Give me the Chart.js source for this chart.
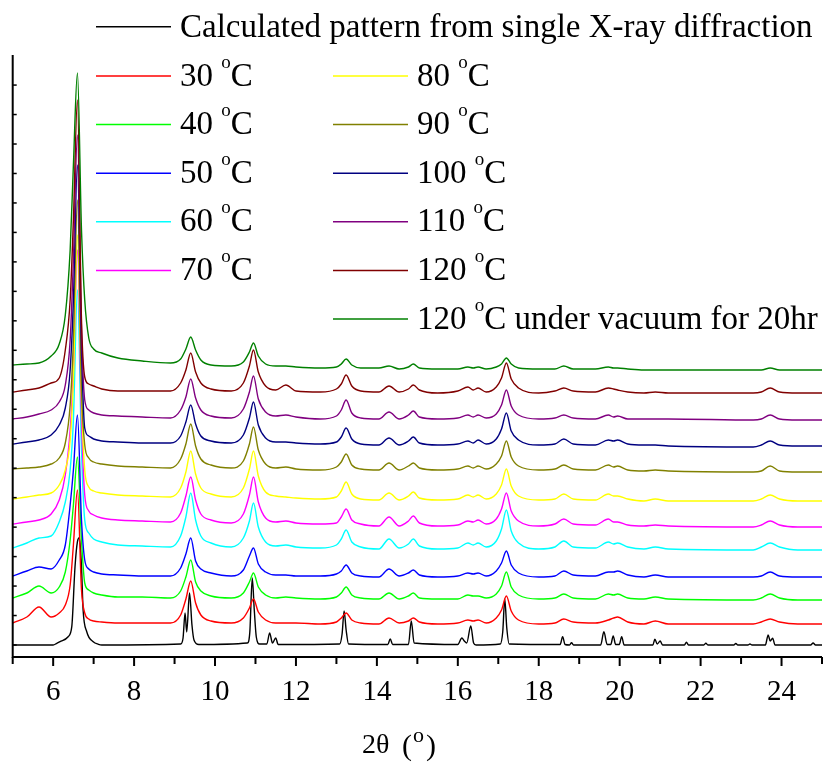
<!DOCTYPE html>
<html><head><meta charset="utf-8">
<script src="https://cdn.jsdelivr.net/npm/chart.js@4.4.1/dist/chart.umd.min.js"></script>
<style>html,body{margin:0;padding:0;background:#fff;}#wrap{width:825px;height:765px;position:relative;}</style>
</head><body><div id="wrap"><canvas id="c"></canvas></div>
<script>
// 2-theta grid shared by the measured patterns
const twoTheta = [5.00,5.35,5.65,5.95,6.15,6.30,6.42,6.50,6.60,6.70,6.78,6.88,7.00,7.20,7.60,8.20,8.90,
 9.15,9.28,9.40,9.52,9.65,9.90,
 10.40,10.70,10.85,10.95,11.07,11.25,11.50,11.75,12.00,12.60,
 13.00,13.12,13.24,13.38,13.60,
 14.05,14.30,14.55,14.78,14.90,15.05,15.50,
 16.00,16.25,16.38,16.50,16.70,
 16.95,17.08,17.20,17.32,17.50,
 18.00,18.40,18.62,18.85,19.40,19.72,19.85,19.95,20.20,20.60,20.88,21.20,23.30,23.50,23.72,23.95,24.40,25.00];

// calculated pattern (own grid)
const calcTheta = [5.00,6.00,6.09,6.17,6.37,6.46,6.54,6.60,6.65,6.70,6.74,6.83,6.99,7.12,7.20,
 9.15,9.21,9.26,9.30,9.37,9.43,9.48,9.60,
 10.80,10.86,10.92,10.97,11.02,11.10,11.28,11.35,11.42,11.50,11.56,
 13.08,13.14,13.19,13.24,13.30,14.27,14.33,14.39,14.78,14.85,14.92,
 16.00,16.10,16.16,16.22,16.32,16.39,16.45,17.05,17.11,17.16,17.21,17.27,
 18.53,18.59,18.65,18.76,18.81,18.86,19.53,19.61,19.69,19.78,19.84,19.90,19.99,20.05,20.11,
 20.82,20.87,20.93,21.00,21.06,21.60,21.65,21.70,22.08,22.13,22.18,22.82,22.87,22.92,23.17,23.22,23.27,
 23.60,23.67,23.72,23.78,23.84,24.72,24.78,24.84,25.00];
const calcPattern = [12,12,13.7,15.3,20.3,30.3,90.3,115.3,119.3,90.3,47,25.3,15.3,12.7,12,
 13,19,44,25,64,32,17,12.5,
 14,25,79,47,20,13,13,24,14,19,12.5,
 13,23,46,27,13,12.5,18,12.5,12.5,36,14,
 12.5,19,16,14,31,14,12,13,25,58,29,13,
 12.5,20.3,12.5,12,14.3,12,12,25.3,12.5,12.5,21,12.5,12.5,20.3,12,
 12,17.7,13,16,12,12,14.7,12,12,13.7,12,12,13.5,12,12,13,12,
 12,22,16,18.7,12,12,14,12,12];

const t30 = [34,40,50,40,44,52,72,112,167,67,44,38,36,35,34,34,34,
 42,58,76,54,42,36,
 34,39,49,58,45,37,34,34,34,33,
 35,39,44,37,34,
 33,39,34,36,39,35,33,
 34,37,36,37,34,
 39,47,61,46,37,
 33,34,38,35,34,37,39,40,35,33,36,33,33,35,38,35,33,33];
const t40 = [59,64,71,64,70,85,117,152,200,117,74,67,64,62,60,60,59,
 66,80,97,75,66,61,
 59,64,75,84,70,62,59,60,59,58,
 60,64,70,62,59,
 58,64,58,61,64,59,58,
 58,62,61,61,59,
 63,71,85,70,62,
 58,59,63,59,58,63,62,63,59,58,60,58,57,59,63,59,57,57];
const t50 = [81,86,90,88,97,112,152,187,242,137,97,88,85,83,82,81,81,
 89,103,119,96,88,84,
 81,87,101,109,93,85,82,82,81,81,
 83,86,92,84,81,
 80,88,81,84,87,82,80,
 81,84,83,84,81,
 86,94,106,92,84,
 80,81,86,82,81,85,85,86,82,80,82,80,80,81,85,81,80,80];
const t60 = [109,114,119,121,135,155,187,237,367,207,137,124,118,115,112,111,110,
 121,140,164,137,121,114,
 110,119,136,154,130,115,111,112,110,109,
 112,118,127,115,110,
 108,118,109,113,118,111,108,
 109,114,112,114,110,
 116,128,147,126,114,
 108,110,116,110,109,115,113,114,110,108,110,108,107,110,114,110,107,107];
const t70 = [133,135,137,143,157,182,227,287,407,237,162,146,142,139,137,136,135,
 144,161,180,157,143,137,
 134,143,162,180,155,139,135,136,134,133,
 134,140,148,137,133,
 131,140,131,136,141,134,131,
 132,136,135,137,133,
 138,148,164,146,136,
 131,133,138,133,132,138,135,135,132,131,132,131,130,132,136,132,130,130];
const t80 = [158,160,162,164,172,187,217,277,422,257,187,170,166,164,162,161,160,
 169,185,206,183,169,163,
 160,169,188,206,181,165,161,160,159,158,
 160,166,175,163,158,
 157,164,157,161,165,159,157,
 158,162,160,162,158,
 163,172,188,171,161,
 157,158,163,158,157,163,161,161,158,156,158,156,156,158,162,158,156,156];
const t90 = [188,189,190,193,199,214,252,317,457,267,212,199,195,193,191,190,189,
 198,213,233,211,198,192,
 189,196,213,230,207,193,189,190,188,187,
 190,195,203,192,188,
 187,194,187,191,194,189,187,
 188,191,189,191,188,
 193,201,216,200,191,
 187,188,192,188,187,192,190,191,187,186,187,186,185,186,191,186,185,185];
const t100 = [213,215,217,222,232,249,287,357,492,307,229,221,218,216,215,214,214,
 221,235,252,233,221,216,
 214,222,239,255,232,219,215,215,214,213,
 215,220,229,218,213,
 212,219,212,216,220,214,212,
 213,216,214,217,213,
 218,228,244,226,217,
 212,213,218,213,212,217,216,217,213,212,212,211,210,212,216,212,211,211];
const t110 = [238,240,243,247,255,272,317,397,522,327,257,247,244,242,241,240,239,
 247,260,278,259,247,241,
 239,248,265,281,258,245,241,242,240,238,
 241,247,257,244,239,
 238,245,238,242,246,240,238,
 239,242,240,242,239,
 243,252,267,251,242,
 238,239,242,239,238,242,240,241,238,238,238,238,237,238,242,238,237,237];
const t120 = [265,267,269,274,279,307,357,437,557,337,280,273,271,268,266,266,266,
 274,287,304,285,274,268,
 266,274,291,307,285,271,267,272,266,265,
 268,273,282,271,266,
 265,271,265,268,272,267,264,
 266,270,267,269,265,
 270,279,294,278,269,
 264,266,269,266,265,269,268,267,265,264,265,264,264,265,269,265,264,264];
const t120vac = [292,293,294,301,313,342,407,492,584,427,357,319,308,304,299,296,294,
 298,308,320,307,297,292,
 291,295,305,314,301,293,291,291,290,289,
 290,293,298,292,289,
 289,291,288,290,293,289,288,
 288,290,289,290,288,
 290,293,299,293,289,
 288,288,291,288,288,290,289,289,288,287,287,287,287,287,289,287,287,287];

const seriesNames = ['Calculated pattern from single X-ray diffraction','30 °C','40 °C','50 °C','60 °C','70 °C',
 '80 °C','90 °C','100 °C','110 °C','120 °C','120 °C under vacuum for 20hr'];
const seriesColors = ['#000000','#ff0000','#00ff00','#0000ff','#00ffff','#ff00ff',
 '#ffff00','#808000','#000080','#800080','#800000','#008000'];
const xTickLabels = ['6','8','10','12','14','16','18','20','22','24'];
const axisTitleParts = ['2θ', '(', 'o', ')'];

const FONT = '"Liberation Serif", "Times New Roman", Times, serif';
Chart.defaults.font.family = FONT;
function pts(xs, ys){ return xs.map((x,i)=>({x:x, y:ys[i]})); }
const seriesData = [pts(calcTheta,calcPattern), pts(twoTheta,t30), pts(twoTheta,t40), pts(twoTheta,t50),
 pts(twoTheta,t60), pts(twoTheta,t70), pts(twoTheta,t80), pts(twoTheta,t90), pts(twoTheta,t100),
 pts(twoTheta,t110), pts(twoTheta,t120), pts(twoTheta,t120vac)];

function drawRich(ctx, text, x, base, size, supSize, raise){
  const parts = text.split('°');
  ctx.fillStyle = '#000'; ctx.textBaseline = 'alphabetic'; ctx.textAlign = 'left';
  parts.forEach((p,k)=>{
    if (k>0){ ctx.font = supSize+'px '+FONT; ctx.fillText('o', x, base-raise); x += ctx.measureText('o').width; }
    ctx.font = size+'px '+FONT; ctx.fillText(p, x, base); x += ctx.measureText(p).width;
  });
}

const axesPlugin = {
  id:'axesDraw',
  afterDatasetsDraw(chart){
    const ctx = chart.ctx, a = chart.chartArea, xs = chart.scales.x, ys = chart.scales.y;
    ctx.save();
    ctx.strokeStyle = '#000'; ctx.lineWidth = 2;
    ctx.beginPath(); ctx.moveTo(a.left, a.top); ctx.lineTo(a.left, a.bottom); ctx.lineTo(a.right, a.bottom); ctx.stroke();
    for (let v=5; v<=25; v++){
      const px = xs.getPixelForValue(v), len = (v%2===0) ? 9 : 7;
      ctx.beginPath(); ctx.moveTo(px, a.bottom); ctx.lineTo(px, a.bottom+len); ctx.stroke();
    }
    ctx.lineWidth = 1.5;
    for (let k=0; k<=19; k++){
      const py = ys.getPixelForValue(12 + 29.47*k);
      ctx.beginPath(); ctx.moveTo(a.left, py); ctx.lineTo(a.left+4, py); ctx.stroke();
    }
    ctx.restore();
  },
  afterDraw(chart){
    const ctx = chart.ctx;
    ctx.save();
    seriesNames.forEach((name,i)=>{
      let lx, ly, off = 9.5;
      if (i===0){ lx = 96; ly = 26.7; off = 10.5; }
      else if (i<=5){ lx = 96; ly = 76 + 48.6*(i-1); }
      else { lx = 333; ly = 76 + 48.6*(i-6); }
      ctx.strokeStyle = seriesColors[i]; ctx.lineWidth = 1.5;
      ctx.beginPath(); ctx.moveTo(lx, ly); ctx.lineTo(lx+75, ly); ctx.stroke();
      drawRich(ctx, name, lx+84, ly+off, 33, 19, 18);
    });
    // axis title 2θ (°)
    ctx.fillStyle = '#000'; ctx.textBaseline = 'alphabetic'; ctx.textAlign = 'left';
    ctx.font = '28px '+FONT;
    ctx.fillText(axisTitleParts[0], 362, 753);
    ctx.font = '30px '+FONT;
    ctx.fillText(axisTitleParts[1], 402, 755);
    ctx.font = '22px '+FONT;
    ctx.fillText(axisTitleParts[2], 413, 742);
    ctx.font = '30px '+FONT;
    ctx.fillText(axisTitleParts[3], 426, 755);
    ctx.restore();
  }
};

new Chart(document.getElementById('c'), {
  type:'line',
  data:{ datasets: seriesData.map((d,i)=>({
    label: seriesNames[i], data: d, borderColor: seriesColors[i], backgroundColor: seriesColors[i],
    borderWidth: 1.4, pointRadius: 0, cubicInterpolationMode: 'monotone', fill: false, order: seriesData.length - i
  }))},
  options:{
    responsive:true, maintainAspectRatio:false, animation:false,
    layout:{ padding:{ left:12.7, right:3, top:55, bottom:0 } },
    plugins:{ legend:{display:false}, tooltip:{enabled:false} },
    scales:{
      x:{ type:'linear', min:5, max:25,
          grid:{display:false, drawTicks:false}, border:{display:false},
          afterBuildTicks: s => { s.ticks = xTickLabels.map(v => ({value:Number(v)})); },
          afterFit: s => { s.height = 108; },
          ticks:{ font:{family:FONT, size:29}, color:'#000', padding:18, maxRotation:0, autoSkip:false,
                  callback: v => String(v) } },
      y:{ display:false, min:0, max:602 }
    }
  },
  plugins:[axesPlugin]
});
</script></body></html>
